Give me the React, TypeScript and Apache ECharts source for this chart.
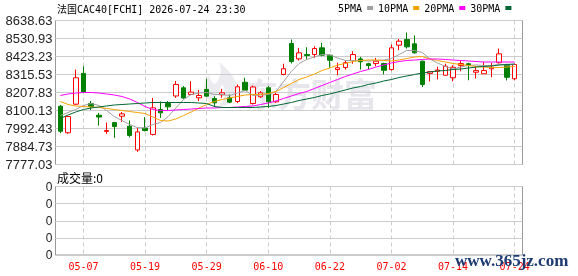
import React, { useEffect, useRef } from 'react';
import * as echarts from 'echarts';

const dates = ['05-04','05-05','05-06','05-07','05-08','05-11','05-12','05-13','05-14','05-15','05-18','05-19','05-20','05-21','05-22','05-25','05-26','05-27','05-28','05-29','06-01','06-02','06-03','06-04','06-05','06-08','06-09','06-10','06-11','06-12','06-15','06-16','06-17','06-18','06-19','06-22','06-23','06-24','06-25','06-26','06-29','06-30','07-01','07-02','07-03','07-06','07-07','07-08','07-09','07-10','07-13','07-14','07-15','07-16','07-17','07-20','07-21','07-22','07-23','07-24'];

const opens = [8126,7967,8138,8322,8142,8072,7975,8028,8066,8006,7864,7995,7957,8106,8142,8187,8236,8196,8176,8226,8172,8194,8176,8154,8269,8142,8182,8236,8152,8316,8501,8409,8435,8435,8475,8431,8345,8357,8399,8409,8380,8381,8381,8345,8491,8525,8499,8395,8322,8335,8311,8296,8369,8380,8329,8320,8350,8386,8371,8290];
const closes = [7976,8064,8296,8211,8124,8061,7980,8004,8080,7951,7972,7980,8116,8086,8122,8256,8175,8210,8190,8186,8146,8206,8150,8242,8222,8241,8206,8152,8196,8350,8393,8445,8429,8471,8431,8401,8356,8386,8435,8392,8369,8395,8341,8475,8515,8481,8445,8256,8333,8342,8365,8359,8381,8371,8339,8339,8359,8439,8299,8375];
const lows = [7965,7961,8133,8208,8103,8010,7960,7937,8031,7939,7853,7975,7951,8056,8102,8176,8170,8194,8157,8184,8122,8176,8145,8145,8216,8136,8176,8116,8146,8311,8381,8399,8405,8415,8425,8356,8311,8345,8380,8345,8345,8365,8316,8339,8461,8471,8441,8240,8274,8286,8309,8275,8335,8281,8292,8320,8299,8381,8280,8281];
const highs = [8133,8067,8345,8365,8157,8085,8028,8031,8091,8040,7995,8061,8176,8154,8156,8277,8246,8275,8223,8289,8186,8230,8196,8256,8296,8250,8216,8246,8206,8380,8525,8475,8479,8485,8505,8435,8386,8399,8455,8421,8386,8415,8386,8495,8528,8567,8549,8399,8336,8362,8380,8371,8399,8386,8365,8392,8386,8471,8380,8380];

const ma5 = [8070.2,8088.2,8106.1,8130.0,8142.0,8130.0,8100.1,8064.2,8040.3,8016.4,7998.4,7995.4,8016.4,8028.3,8064.2,8115.1,8166.0,8195.9,8204.8,8207.8,8195.9,8195.9,8189.9,8204.8,8219.8,8189.9,8192.9,8195.9,8213.8,8273.7,8333.5,8381.4,8405.3,8420.2,8435.2,8432.2,8414.3,8399.3,8399.3,8399.3,8396.3,8399.3,8402.3,8411.3,8435.2,8459.1,8459.1,8447.2,8408.3,8384.3,8363.4,8348.4,8360.4,8369.4,8372.4,8369.4,8369.4,8375.4,8372.4,8375.4];
const ma10 = [8154.0,8136.0,8127.1,8124.1,8121.1,8118.1,8112.1,8106.1,8100.1,8094.1,8088.2,8082.2,8061.2,8040.3,8037.3,8049.3,8070.2,8091.2,8115.1,8136.0,8154.0,8166.0,8174.9,8183.9,8192.9,8195.9,8195.9,8201.9,8213.8,8237.8,8261.7,8285.6,8300.6,8318.5,8339.5,8354.4,8372.4,8381.4,8393.3,8399.3,8402.3,8402.3,8399.3,8396.3,8402.3,8411.3,8420.2,8423.2,8408.3,8399.3,8390.3,8381.4,8375.4,8369.4,8363.4,8360.4,8357.4,8357.4,8360.4,8363.4];
const ma20 = [8189.9,8198.9,8204.8,8207.8,8207.8,8204.8,8198.9,8192.9,8183.9,8168.9,8148.0,8124.1,8106.1,8100.1,8100.1,8103.1,8106.1,8109.1,8112.1,8115.1,8115.1,8118.1,8118.1,8121.1,8124.1,8127.1,8136.0,8145.0,8157.0,8171.9,8186.9,8201.9,8213.8,8231.8,8249.7,8267.7,8285.6,8303.6,8318.5,8333.5,8345.4,8360.4,8372.4,8384.3,8393.3,8399.3,8402.3,8405.3,8408.3,8408.3,8405.3,8402.3,8399.3,8396.3,8393.3,8390.3,8390.3,8390.3,8390.3,8390.3];
const ma30 = [8052.3,8073.2,8091.2,8106.1,8115.1,8121.1,8127.1,8133.0,8136.0,8139.0,8142.0,8145.0,8148.0,8148.0,8148.0,8148.0,8148.0,8148.0,8145.0,8142.0,8124.1,8118.1,8118.1,8118.1,8118.1,8118.1,8121.1,8124.1,8130.0,8139.0,8148.0,8160.0,8168.9,8177.9,8189.9,8198.9,8210.8,8222.8,8234.8,8243.7,8255.7,8264.7,8276.6,8285.6,8297.6,8306.6,8315.5,8324.5,8330.5,8336.5,8339.5,8345.4,8348.4,8354.4,8360.4,8363.4,8366.4,8372.4,8375.4,8378.4];

const priceMin = 7777.03;
const priceMax = 8638.63;
const priceStep = 107.7;
const titleText = '法国CAC40[FCHI] 2026-07-24 23:30';
const volumeText = '成交量:0';
const maNames = ['5PMA', '10PMA', '20PMA', '30PMA'];
const maColors = ['#a0a0a0', '#f5a300', '#ff00ff', '#006633'];

const MONO = "'DejaVu Sans Mono', 'Noto Sans CJK SC', monospace";
const SANS = "'Liberation Sans', Arial, sans-serif";

const flamePath = 'M20 0 C31 9 41 20 37 32 C34 40 26 45 18 46 C26 38 28 30 23 22 C21 30 15 34 13 41 C4 35 2 24 10 13 C12 21 16 24 18 20 C22 14 23 7 20 0 Z';
let flameRegistered = false;

export default function App() {
  const ref = useRef<HTMLDivElement>(null);
  useEffect(() => {
    if (!ref.current) return;
    if (!flameRegistered) {
      echarts.graphic.registerShape('flameLogo', echarts.graphic.extendPath(flamePath, {}) as any);
      flameRegistered = true;
    }
    const chart = echarts.init(ref.current, undefined, { renderer: 'svg' });
    const labelInterval = (i: number) => i % 8 === 3;
    const dashed = { show: true, interval: labelInterval, alignWithLabel: true, lineStyle: { color: '#cccccc', width: 1, type: [4, 3] } } as any;
    const candleData = opens.map((o, i) => [o, closes[i], lows[i], highs[i]]);
    const maSeries = [ma5, ma10, ma20, ma30].map((d, k) => ({
      name: maNames[k],
      type: 'line',
      xAxisIndex: 1,
      yAxisIndex: 1,
      data: d,
      showSymbol: false,
      symbol: 'none',
      color: maColors[k],
      lineStyle: { color: maColors[k], width: 1 },
      z: 4,
      silent: true,
    }));
    chart.setOption({
      animation: false,
      title: [
        { text: titleText, left: 57, top: 4, padding: 0, textStyle: { fontSize: 10, fontFamily: MONO, fontWeight: 'normal', color: '#000' } },
        { text: volumeText, left: 57, top: 171, padding: 0, textStyle: { fontSize: 12, fontFamily: "'Noto Sans CJK SC', sans-serif", fontWeight: 'normal', color: '#000' } },
      ],
      legend: {
        data: maNames,
        left: 338,
        top: 3,
        padding: 0,
        align: 'right',
        icon: 'rect',
        itemWidth: 6,
        itemHeight: 4,
        itemGap: 5,
        textStyle: { fontSize: 10, fontFamily: MONO, color: '#000' },
        selectedMode: false,
      },
      graphic: [
        { type: 'flameLogo', x: 199, y: 62, z: 0, silent: true, style: { fill: '#ececf0' } },
        { type: 'text', left: 245, top: 76, z: 0, silent: true, style: { text: '东方财富', fontSize: 33, fontWeight: 'bold', fontFamily: "'Noto Sans CJK SC', sans-serif", fill: '#e6e6ec' } },
        { type: 'text', left: 455, top: 252, z: 100, silent: true, style: { text: 'www.365jz.com', fontSize: 17, fontWeight: 'bold', fontFamily: "'Liberation Serif', serif", fill: '#1d3a72' } },
      ],
      grid: [
        { left: 55.5, top: 20.5, width: 467, height: 144, show: true, borderColor: '#999', borderWidth: 1, backgroundColor: 'transparent' },
        { left: 56.5, top: 20.5, width: 462, height: 144 },
        { left: 55.5, top: 186.5, width: 467, height: 68.5, show: true, borderColor: '#999', borderWidth: 1, backgroundColor: 'transparent' },
        { left: 56.5, top: 186.5, width: 462, height: 68.5 },
      ],
      xAxis: [
        { type: 'category', gridIndex: 0, data: dates, show: false },
        { type: 'category', gridIndex: 1, data: dates, boundaryGap: true, axisLine: { show: false }, axisTick: { show: false }, axisLabel: { show: false }, splitLine: dashed },
        { type: 'category', gridIndex: 2, data: dates, show: false },
        {
          type: 'category', gridIndex: 3, data: dates, boundaryGap: true,
          axisLine: { show: false }, axisTick: { show: false },
          axisLabel: { interval: labelInterval, color: '#ff0000', fontSize: 10, fontFamily: MONO, margin: 6 },
          splitLine: dashed,
        },
      ],
      yAxis: [
        {
          type: 'value', gridIndex: 0, min: priceMin, max: priceMax, interval: priceStep,
          axisLine: { show: false }, axisTick: { show: false },
          axisLabel: { fontSize: 13, fontFamily: SANS, color: '#222', margin: 3, formatter: (v: number) => v.toFixed(2), showMinLabel: true, showMaxLabel: true },
          splitLine: { lineStyle: { color: '#cccccc', width: 1 } },
        },
        { type: 'value', gridIndex: 1, min: priceMin, max: priceMax, show: false },
        {
          type: 'value', gridIndex: 2, min: 0, max: 4, interval: 1,
          axisLine: { show: false }, axisTick: { show: false },
          axisLabel: { fontSize: 12, fontFamily: SANS, color: '#222', margin: 3, formatter: () => '0', showMinLabel: true, showMaxLabel: true },
          splitLine: { lineStyle: { color: '#cccccc', width: 1 } },
        },
        { type: 'value', gridIndex: 3, min: 0, max: 4, show: false },
      ],
      series: [
        {
          type: 'candlestick',
          xAxisIndex: 1,
          yAxisIndex: 1,
          data: candleData,
          barWidth: 5,
          z: 3,
          silent: true,
          itemStyle: { color: '#ffffff', color0: '#008000', borderColor: '#ff0000', borderColor0: '#008000', borderWidth: 1 },
        },
        ...maSeries,
      ],
    });
    return () => chart.dispose();
  }, []);
  return <div ref={ref} style={{ position: 'fixed', left: 0, top: 0, width: 578, height: 276 }} />;
}
